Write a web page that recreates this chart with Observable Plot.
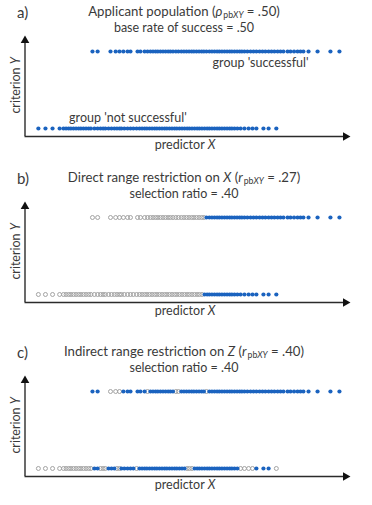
<!DOCTYPE html>
<html>
<head>
<meta charset="utf-8">
<script src="https://cdn.jsdelivr.net/npm/d3@7"></script>
<script src="https://cdn.jsdelivr.net/npm/@observablehq/plot@0.6"></script>
<style>
  body { margin: 0; background: #fff; font-family: Lato, "Open Sans", sans-serif; color: #3a3a3a; }
  #chart { position: relative; width: 372px; height: 505px; overflow: hidden; }
  .panel { position: absolute; left: 0; width: 372px; }
  .panel svg { position: absolute; left: 0; top: 0; }
  .txt { position: absolute; white-space: nowrap; line-height: 1; }
  .center { left: 0; width: 368px; text-align: center; }
  .ylab { width: 100px; text-align: center; transform: rotate(-90deg); }
  .sb { font-size: 0.66em; position: relative; top: 0.25em; }
  .sb.first { margin-left: 1px; }
  .it { font-style: italic; }
</style>
</head>
<body>
<div id="chart"></div>
<script>
// Predictor scores (0-100 scale) of applicants who turned out successful (criterion Y = 1)
const successfulX = [
  20.8, 22.4, 26.4, 28.0, 29.2, 30.4, 31.7, 32.6, 34.8, 35.7, 37.0, 37.9,
  38.8, 39.6, 40.4, 41.1, 41.9, 42.7, 43.5, 44.3, 45.0, 45.8, 46.7, 47.5,
  48.4, 49.2, 50.0, 50.8, 51.6, 52.3, 53.1, 53.9, 54.7, 55.4, 56.2, 57.1,
  57.9, 58.7, 59.5, 60.2, 61.0, 61.8, 62.6, 63.4, 64.1, 64.9, 65.7, 66.5,
  67.2, 68.0, 68.9, 69.9, 70.8, 71.7, 72.7, 73.6, 74.5, 75.5, 76.4, 77.3,
  78.3, 79.2, 80.1, 81.4, 82.3, 83.4, 84.5, 85.4, 86.3, 87.9, 90.7, 94.7, 97.5
];
// 1 = selected by the third variable Z (indirect restriction), same order as above
const successfulSelectedZ = [
  1, 1, 0, 0, 0, 1, 1, 1, 1, 1, 1, 0,
  1, 1, 1, 1, 1, 1, 1, 1, 1, 1, 0, 0,
  1, 1, 1, 1, 1, 1, 1, 1, 1, 1, 0, 1,
  1, 1, 1, 1, 1, 1, 1, 1, 1, 1, 1, 1,
  1, 1, 1, 1, 1, 1, 1, 1, 1, 1, 1, 1,
  1, 1, 1, 1, 1, 1, 1, 1, 1, 1, 1, 1, 1
];
// Predictor scores of applicants who were not successful (criterion Y = 0)
const notSuccessfulX = [
  4.0, 6.2, 8.4, 10.6, 11.8, 12.6, 13.4, 14.1, 14.9, 15.7, 16.5, 17.2,
  18.0, 18.8, 19.6, 20.3, 21.4, 22.4, 23.3, 24.1, 24.8, 25.8, 26.7, 27.6,
  28.4, 29.2, 29.8, 30.7, 31.7, 32.6, 33.5, 34.5, 35.4, 36.2, 37.0, 37.7,
  38.5, 39.3, 40.1, 40.8, 41.6, 42.4, 43.2, 43.9, 44.7, 45.5, 46.3, 47.0,
  47.8, 48.6, 49.4, 50.2, 50.9, 51.7, 52.5, 53.3, 54.0, 54.8, 55.6, 56.4,
  57.1, 57.9, 58.7, 59.5, 60.2, 61.0, 61.8, 62.6, 63.4, 64.1, 64.9, 65.8,
  66.8, 68.0, 69.3, 70.5, 71.7, 73.9, 75.5, 77.9
];
const notSuccessfulSelectedZ = [
  0, 0, 0, 0, 0, 0, 0, 0, 0, 0, 0, 0,
  0, 0, 0, 0, 1, 1, 0, 0, 0, 1, 1, 1,
  0, 0, 1, 1, 1, 1, 1, 0, 1, 1, 1, 1,
  1, 1, 1, 1, 1, 1, 1, 1, 1, 1, 1, 1,
  1, 1, 1, 0, 0, 0, 1, 1, 1, 1, 1, 1,
  1, 1, 1, 1, 1, 1, 1, 1, 1, 1, 1, 1,
  0, 0, 0, 0, 1, 1, 1, 0
];
// Direct selection: applicants above this predictor score are hired
const cutoffX = 55.5;

const panelLetters = ["a)", "b)", "c)"];
const sub = "<span class='sb first'>pb</span><span class='sb it'>XY</span>";
const panelTitles = [
  "Applicant population (<span class='it'>ρ</span>" + sub + " = .50)",
  "Direct range restriction on <span class='it'>X</span> (<span class='it'>r</span>" + sub + " = .27)",
  "Indirect range restriction on <span class='it'>Z</span> (<span class='it'>r</span>" + sub + " = .40)"
];
const panelSubtitles = ["base rate of success = .50", "selection ratio = .40", "selection ratio = .40"];
const groupLabels = ["group 'successful'", "group 'not successful'"];

const blue = "#1b63bf";
const grey = "#a3a3a3";
const ink = "#3a3a3a";
const xDomain = [0, 100];
const yDomain = [-0.104, 1.169];
const panelTops = [0, 166, 340];
const panelHeights = [166, 174, 165];

// selection rule per panel
const selectors = [
  () => true,
  (x) => x > cutoffX,
  (x, z) => z === 1
];

const chart = document.getElementById("chart");

function addText(parent, html, cls, baseline, size, left) {
  const d = document.createElement("div");
  d.className = "txt " + cls;
  d.innerHTML = html;
  d.style.fontSize = size + "px";
  d.style.top = (baseline - 0.887 * size) + "px";
  if (left != null) d.style.left = left + "px";
  parent.appendChild(d);
  return d;
}

panelTops.forEach((top, i) => {
  const panel = document.createElement("div");
  panel.className = "panel";
  panel.style.top = top + "px";
  panel.style.height = panelHeights[i] + "px";
  chart.appendChild(panel);

  const pts = [
    ...successfulX.map((x, k) => ({x, y: 1, sel: selectors[i](x, successfulSelectedZ[k])})),
    ...notSuccessfulX.map((x, k) => ({x, y: 0, sel: selectors[i](x, notSuccessfulSelectedZ[k])}))
  ];
  const unselected = pts.filter(d => !d.sel);
  const selected = pts.filter(d => d.sel);

  const marks = [
    // axes drawn as arrows
    Plot.ruleY([{y: yDomain[0], x1: xDomain[0], x2: xDomain[1]}], {y: "y", x1: "x1", x2: "x2", stroke: "#2b2b2b", strokeWidth: 1.4, dx: -0.5}),
    Plot.ruleX([{x: xDomain[0], y1: yDomain[0], y2: yDomain[1]}], {x: "x", y1: "y1", y2: "y2", stroke: "#2b2b2b", strokeWidth: 1.4, dx: -0.5}),
    Plot.dot([{x: xDomain[1], y: yDomain[0]}], {x: "x", y: "y", symbol: "triangle", r: 3.2, rotate: 90, fill: "#111", dx: -2}),
    Plot.dot([{x: xDomain[0], y: yDomain[1]}], {x: "x", y: "y", symbol: "triangle", r: 3.2, fill: "#111", dx: -0.5, dy: 2}),
    Plot.dot(unselected, {x: "x", y: "y", r: 2, fill: "none", stroke: grey, strokeWidth: 1}),
    Plot.dot(selected, {x: "x", y: "y", r: 2.1, fill: blue})
  ];
  if (i === 0) {
    marks.push(Plot.text([{x: 73.0, y: 0.855, t: groupLabels[0]}, {x: 31.8, y: 0.135, t: groupLabels[1]}],
      {x: "x", y: "y", text: "t", fontSize: 12.5, fill: ink, textAnchor: "middle", lineAnchor: "middle"}));
  }

  const svg = Plot.plot({
    width: 372,
    height: 166,
    marginTop: 38,
    marginBottom: 30,
    marginLeft: 25,
    marginRight: 25,
    style: {fontFamily: "Lato, 'Open Sans', sans-serif", background: "transparent", overflow: "visible"},
    x: {domain: xDomain, axis: null},
    y: {domain: yDomain, axis: null},
    marks
  });
  panel.appendChild(svg);

  addText(panel, panelLetters[i], "", 18, 15, 17);
  addText(panel, panelTitles[i], "center", 16.8, 13.2);
  addText(panel, panelSubtitles[i], "center", 33.5, 12.5);
  const xl = addText(panel, "predictor <span class='it'>X</span>", "center", 150, 12.5);
  xl.style.width = "370px";
  addText(panel, "criterion <span class='it'>Y</span>", "ylab", 90.5, 12.5, 16 - 50);
});
</script>
</body>
</html>
